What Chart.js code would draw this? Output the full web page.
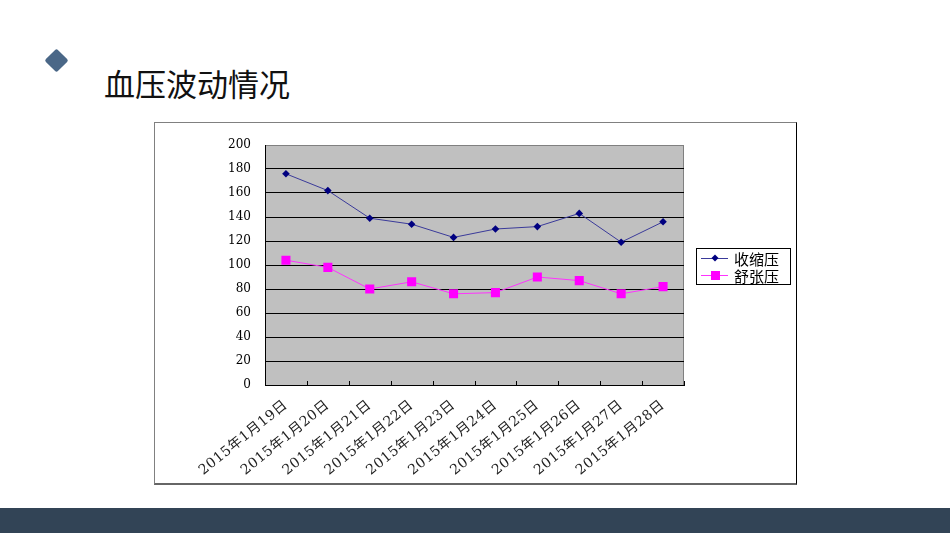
<!DOCTYPE html>
<html>
<head>
<meta charset="utf-8">
<script src="https://cdn.jsdelivr.net/npm/chart.js@4.4.1/dist/chart.umd.min.js"></script>
<style>
  html, body { margin: 0; padding: 0; background: #fff; }
  body { width: 950px; height: 535px; position: relative; overflow: hidden; font-family: "Noto Sans CJK SC", sans-serif; }
  .diamond { position: absolute; left: 48px; top: 52px; width: 17px; height: 17px; background: #4a6787; transform: rotate(45deg); border-radius: 2px; }
  .titulo { position: absolute; left: 104px; top: 63px; font-size: 31px; color: #111; line-height: 40px; }
  .caixa { position: absolute; left: 154px; top: 122px; width: 641px; height: 360px;
           border-left: 1px solid #808080; border-top: 1px solid #808080;
           border-right: 1px solid #000; border-bottom: 2px solid #666; }
  .rodape { position: absolute; left: 0; top: 508px; width: 950px; height: 25px; background: #324456; }
</style>
</head>
<body>
<div class="diamond"></div>
<div class="titulo">血压波动情况</div>
<div class="caixa"><canvas id="grafico" width="641" height="360"></canvas></div>
<div class="rodape"></div>
<script>
const datas = ['2015年1月19日', '2015年1月20日', '2015年1月21日', '2015年1月22日', '2015年1月23日',
  '2015年1月24日', '2015年1月25日', '2015年1月26日', '2015年1月27日', '2015年1月28日'];
const sistolica = [176, 162, 139, 134, 123, 130, 132, 143, 119, 136];
const diastolica = [104, 98, 80, 86, 76, 77, 90, 87, 76, 82];
const nomesSeries = ['收缩压', '舒张压'];
const yTicks = [0, 20, 40, 60, 80, 100, 120, 140, 160, 180, 200];

// fundo cinza da area do grafico + marcas do eixo x para dentro
const fundoPlugin = {
  id: 'fundo',
  beforeDraw(chart) {
    const { ctx, chartArea: a } = chart;
    ctx.save();
    ctx.fillStyle = '#c0c0c0';
    ctx.fillRect(a.left, a.top, a.right - a.left, a.bottom - a.top);
    ctx.strokeStyle = '#808080';
    ctx.lineWidth = 1;
    ctx.strokeRect(a.left + 0.5, a.top + 0.5, a.right - a.left - 1, a.bottom - a.top);
    ctx.restore();
  },
  afterDatasetsDraw(chart) {
    const { ctx, chartArea: a, scales } = chart;
    const x = scales.x;
    ctx.save();
    ctx.strokeStyle = '#000';
    ctx.lineWidth = 1;
    for (let i = 0; i <= datas.length; i++) {
      const px = Math.round(x.getPixelForValue(i - 0.5)) + 0.5;
      ctx.beginPath();
      ctx.moveTo(px, a.bottom);
      ctx.lineTo(px, a.bottom - 4);
      ctx.stroke();
    }
    ctx.restore();
    // rotulos do eixo x (z: 1) saem um pouco mais espacados
    ctx.letterSpacing = '0.5px';
  },
  afterDraw(chart) {
    chart.ctx.letterSpacing = '0px';
  }
};

// legenda com moldura, a direita
const legendaPlugin = {
  id: 'legendaCaixa',
  afterDraw(chart) {
    const { ctx } = chart;
    const bx = 541, by = 125, bw = 94, bh = 36;
    ctx.save();
    ctx.fillStyle = '#fff';
    ctx.fillRect(bx, by, bw, bh);
    ctx.strokeStyle = '#000';
    ctx.lineWidth = 1;
    ctx.strokeRect(bx + 0.5, by + 0.5, bw, bh);
    chart.data.datasets.forEach((ds, i) => {
      const cy = by + 10 + i * 17;
      ctx.strokeStyle = ds.borderColor;
      ctx.beginPath();
      ctx.moveTo(bx + 5, cy + 0.5);
      ctx.lineTo(bx + 32, cy + 0.5);
      ctx.stroke();
      ctx.fillStyle = ds.pointBackgroundColor;
      if (ds.pointStyle === 'rect') {
        ctx.fillRect(bx + 15, cy - 4, 9, 9);
      } else {
        ctx.beginPath();
        ctx.moveTo(bx + 19, cy - 3.5);
        ctx.lineTo(bx + 22.5, cy);
        ctx.lineTo(bx + 19, cy + 3.5);
        ctx.lineTo(bx + 15.5, cy);
        ctx.closePath();
        ctx.fill();
      }
      ctx.fillStyle = '#000';
      ctx.font = '15px "Noto Sans CJK SC"';
      ctx.textBaseline = 'middle';
      ctx.fillText(ds.label, bx + 38, cy + 1);
    });
    ctx.restore();
  }
};

const ctx = document.getElementById('grafico').getContext('2d');
new Chart(ctx, {
  type: 'line',
  data: {
    labels: datas,
    datasets: [{
      label: nomesSeries[0],
      data: sistolica,
      borderColor: '#3a3a9a',
      borderWidth: 1,
      pointStyle: 'rectRot',
      pointRadius: 3.8,
      pointBackgroundColor: '#000080',
      pointBorderColor: '#000080',
      pointBorderWidth: 0,
      tension: 0
    }, {
      label: nomesSeries[1],
      data: diastolica,
      borderColor: '#ff33ff',
      borderWidth: 1,
      pointStyle: 'rect',
      pointRadius: 6.4,
      pointBackgroundColor: '#ff00ff',
      pointBorderColor: '#ff00ff',
      pointBorderWidth: 0,
      tension: 0
    }]
  },
  options: {
    responsive: false,
    animation: false,
    layout: { padding: { left: 0, top: 22, right: 112, bottom: 0 } },
    plugins: { legend: { display: false }, tooltip: { enabled: false } },
    scales: {
      x: {
        offset: true,
        grid: { display: false, offset: true },
        border: { display: true, color: '#000', width: 1 },
        ticks: {
          autoSkip: false, maxRotation: 39, minRotation: 39, padding: 4, z: 1,
          color: '#222', font: { family: '"DejaVu Serif", "Noto Sans CJK SC"', size: 14 }
        },
        afterFit(scale) { scale.height = 98; }
      },
      y: {
        min: 0, max: 200,
        afterBuildTicks(scale) { scale.ticks = yTicks.map(v => ({ value: v })); },
        grid: {
          color: c => (c.tick && c.tick.value === 200) ? 'rgba(0,0,0,0)' : '#000',
          drawTicks: false
        },
        border: { display: true, color: '#000', width: 1 },
        ticks: {
          padding: 14, color: '#000',
          font: { family: '"DejaVu Serif", serif', size: 12 }
        },
        afterFit(scale) { scale.width = 110; }
      }
    }
  },
  plugins: [fundoPlugin, legendaPlugin]
});
</script>
</body>
</html>
